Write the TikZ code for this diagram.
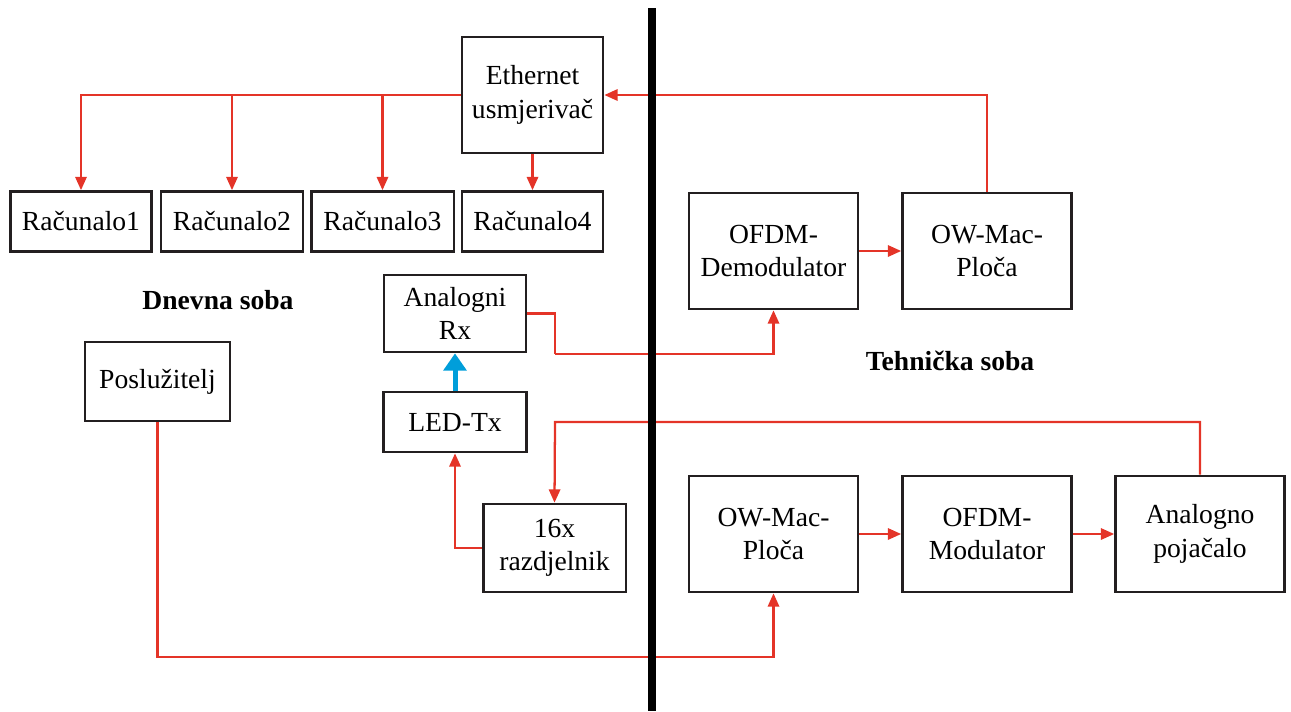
\documentclass[tikz,border=0pt]{standalone}
\usepackage{fontspec}
\setmainfont{Liberation Serif}
\usetikzlibrary{arrows.meta}
\definecolor{wire}{RGB}{228,52,40}
\definecolor{optic}{RGB}{0,158,218}
\definecolor{frame}{RGB}{35,31,32}
\begin{document}
\begin{tikzpicture}[x=0.75pt,y=-0.75pt,
  blk/.style={draw=frame,line width=2pt,fill=white,align=center,inner sep=2pt,
              font=\fontsize{20.7}{25}\selectfont},
  wide/.style={blk,minimum width=126.75pt,minimum height=87pt},
  arr/.style={draw=wire,line width=1.7pt,-{Triangle[length=10pt,width=8.5pt]}},
  wireline/.style={draw=wire,line width=1.7pt},
  room/.style={font=\fontsize{20.7}{25}\selectfont\bfseries}]
\useasboundingbox (0,0) rectangle (1291,711);

% living-room side
\node[blk,minimum width=105.75pt,minimum height=87pt] (eth) at (532.5,95) {Ethernet\\usmjerivač};
\node[blk,minimum width=106pt,minimum height=45pt] (r1) at (81,221.5) {Računalo1};
\node[blk,minimum width=106.5pt,minimum height=45pt] (r2) at (232,221.5) {Računalo2};
\node[blk,minimum width=107pt,minimum height=45pt] (r3) at (382.5,221.5) {Računalo3};
\node[blk,minimum width=105.75pt,minimum height=45pt] (r4) at (532.5,221.5) {Računalo4};
\node[blk,minimum width=106.5pt,minimum height=57.75pt] (arx) at (455,313.5) {Analogni\\Rx};
\node[blk,minimum width=107pt,minimum height=45pt] (led) at (455,422) {LED-Tx};
\node[blk,minimum width=107pt,minimum height=66pt] (split) at (554.5,548) {16x\\razdjelnik};
\node[blk,minimum width=108.75pt,minimum height=59.25pt] (posl) at (157.5,381.5) {Poslužitelj};
\node[room] (dnevna) at (218,300) {Dnevna soba};

% technical-room side
\node[wide] (demod) at (773.5,251) {OFDM-\\Demodulator};
\node[wide] (plocaT) at (987,251) {OW-Mac-\\Ploča};
\node[wide] (plocaB) at (773.5,534) {OW-Mac-\\Ploča};
\node[wide] (mod) at (987,534) {OFDM-\\Modulator};
\node[wide] (amp) at (1200,534) {Analogno\\pojačalo};
\node[room] (tehnicka) at (950,361) {Tehnička soba};

% bend points
\coordinate (rxbend) at (555,354);
\coordinate (ampbend) at (555,422);
\coordinate (srvbend) at (773.5,657);

% router to the computers
\draw[arr] (eth.west) -| (r1.north);
\draw[arr] (r2.north |- eth.west) -- (r2.north);
\draw[arr] (r3.north |- eth.west) -- (r3.north);
\draw[arr] (eth.south) -- (r4.north);

% downstream path
\draw[arr] (plocaT.north) |- (eth.east);
\draw[arr] (demod.east) -- (plocaT.west);
\draw[wireline] (arx.east) -| (rxbend);
\draw[arr] (rxbend) -| (demod.south);
\draw[optic,line width=3.75pt,-{Triangle[length=13pt,width=17pt]}] (led.north) -- (arx.south);

% upstream path
\draw[arr] (posl.south) |- (srvbend) -- (plocaB.south);
\draw[arr] (plocaB.east) -- (mod.west);
\draw[arr] (mod.east) -- (amp.west);
\draw[arr] (amp.north) |- (ampbend) -- (split.north);
\draw[arr] (split.west) -| (led.south);

% wall between the rooms
\draw[black,line width=6pt] (652,8) -- (652,711);
\end{tikzpicture}
\end{document}
